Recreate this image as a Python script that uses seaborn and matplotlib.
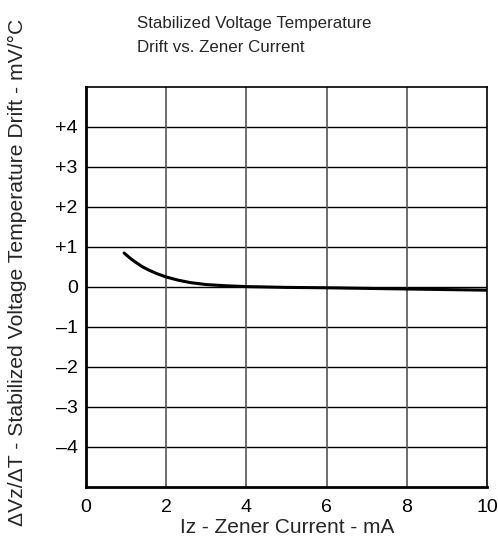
import numpy as np
import pandas as pd
import matplotlib
matplotlib.use("Agg")
import matplotlib.pyplot as plt
import seaborn as sns

# curve
current_ma = [0.95, 1.1, 1.25, 1.4, 1.55, 1.75, 2.0, 2.3, 2.6, 3.0, 3.5, 4.0, 5.0, 6.0, 7.0, 8.0, 9.0, 10.0]
drift_mv = [0.85, 0.72, 0.61, 0.51, 0.43, 0.34, 0.25, 0.17, 0.11, 0.06, 0.03, 0.01, -0.01, -0.02, -0.035, -0.05, -0.065, -0.08]

x_ticks = [0, 2, 4, 6, 8, 10]
y_ticks = [-4, -3, -2, -1, 0, 1, 2, 3, 4]
y_tick_labels = ["\u20134", "\u20133", "\u20132", "\u20131", "0", "+1", "+2", "+3", "+4"]

df = pd.DataFrame({"current": current_ma, "drift": drift_mv})

sns.set_style("white")
plt.rcParams["font.family"] = ["Liberation Sans", "DejaVu Sans"]

fig = plt.figure(figsize=(4.98, 5.42), dpi=100)
ax = fig.add_axes([0.1727, 0.1015, 0.8053, 0.738])

sns.lineplot(data=df, x="current", y="drift", ax=ax, color="black", linewidth=2.2)

ax.set_xlim(0, 10)
ax.set_ylim(-5, 5)
ax.set_xticks(x_ticks)
ax.set_yticks(y_ticks)
ax.set_yticklabels(y_tick_labels)
ax.tick_params(axis="y", length=0, labelsize=14, colors="black", pad=6)
ax.tick_params(axis="x", length=0, labelsize=14, colors="black", pad=9)

# grid: horizontal black, vertical grey
for yv in y_ticks:
    ax.axhline(yv, color="black", linewidth=1.0, zorder=0)
for xv in x_ticks[1:-1]:
    ax.axvline(xv, color="#555555", linewidth=1.2, zorder=0)

for side in ["left", "bottom"]:
    ax.spines[side].set_linewidth(2.0)
for side in ["top", "right"]:
    ax.spines[side].set_linewidth(1.2)
for s in ax.spines.values():
    s.set_color("black")

ax.set_xlabel("")
ax.set_ylabel("")
fig.text(0.576, 0.026, "I\u1d22 - Zener Current - mA", ha="center", va="center", fontsize=15)
fig.text(0.036, 0.498, "\u0394V\u1d22/\u0394T - Stabilized Voltage Temperature Drift - mV/\u00b0C",
         rotation=90, ha="center", va="center", fontsize=15.2)
fig.text(0.275, 0.971, "Stabilized Voltage Temperature\nDrift vs. Zener Current",
         ha="left", va="top", fontsize=12.2, linespacing=1.75)

fig.savefig("out.png", dpi=100)
